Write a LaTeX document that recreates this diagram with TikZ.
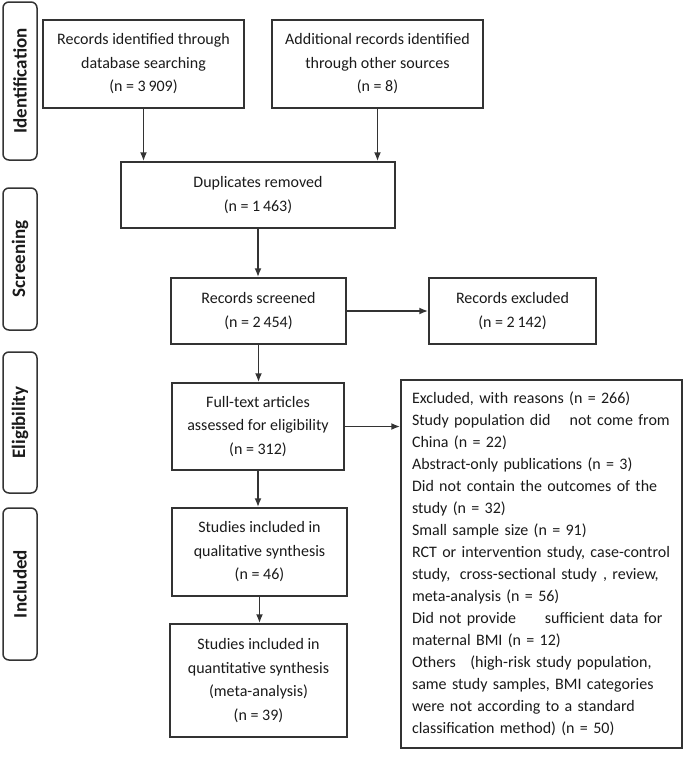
\documentclass[tikz,border=0pt]{standalone}
\usepackage{fontspec}
\setmainfont{Carlito}
\usetikzlibrary{arrows.meta}
\definecolor{boxgray}{HTML}{333333}
\definecolor{txtgray}{HTML}{1A1A1A}

\begin{document}
\begin{tikzpicture}[x=1pt, y=-1pt,
    box/.style={draw=boxgray, line width=1.5pt, align=center, inner sep=2pt, text=txtgray,
        font=\fontsize{16}{23.5}\selectfont},
    phase/.style={draw=boxgray, line width=1.5pt, rounded corners=6pt, rotate=90, text=txtgray,
        minimum height=34pt, font=\bfseries\fontsize{19}{21}\selectfont},
    flow/.style={draw=boxgray, line width=1.8pt, -{Latex[length=9pt,width=7pt]}}]
    \useasboundingbox (0,0) rectangle (685,769);
    % phases on the left
    \node [phase, minimum width=158pt] (ident) at (20,81) {Identification};
    \node [phase, minimum width=142pt] (screen) at (20,259) {Screening};
    \node [phase, minimum width=141pt] (elig) at (20,422.5) {Eligibility};
    \node [phase, minimum width=152pt] (incl) at (20,584) {Included};
    % flow boxes
    \node [box, minimum width=201pt, minimum height=88pt] (db) at (143.5,64)
        {Records identified through\\database searching\\(n = 3\,909)};
    \node [box, minimum width=211pt, minimum height=88pt] (other) at (377.5,64)
        {Additional records identified\\through other sources\\(n = 8)};
    \node [box, minimum width=274pt, minimum height=66pt] (dup) at (258,195)
        {Duplicates removed\\(n = 1\,463)};
    \node [box, minimum width=175pt, minimum height=66pt] (screened) at (258.5,311)
        {Records screened\\(n = 2\,454)};
    \node [box, minimum width=167pt, minimum height=66pt] (excl) at (512.5,311)
        {Records excluded\\(n = 2\,142)};
    \node [box, minimum width=172pt, minimum height=87pt] (full) at (258,426.5)
        {Full-text articles\\assessed for eligibility\\(n = 312)};
    \node [box, minimum width=175pt, minimum height=88pt] (qual) at (259.5,552)
        {Studies included in\\qualitative synthesis\\(n = 46)};
    \node [box, minimum width=177pt, minimum height=113pt] (quant) at (258.5,680.5)
        {Studies included in\\quantitative synthesis\\(meta-analysis)\\(n = 39)};
    \node [box, align=left, inner xsep=11pt, text width=259pt, minimum height=368pt,
        font=\fontsize{16}{22}\selectfont] (reasons) at (541.5,564)
        {Excluded, with reasons (n = 266)\\
         Study population did\hspace{1.2em}not come from\\
         China (n = 22)\\
         Abstract-only publications (n = 3)\\
         Did not contain the outcomes of the\\
         study (n = 32)\\
         Small sample size (n = 91)\\
         RCT or intervention study, case-control\\
         study,\hspace{0.6em}cross-sectional study\hspace{0.4em}, review,\\
         meta-analysis (n = 56)\\
         Did not provide\hspace{1.8em}sufficient data for\\
         maternal BMI (n = 12)\\
         Others\hspace{0.9em}(high-risk study population,\\
         same study samples, BMI categories\\
         were not according to a standard\\
         classification method) (n = 50)};
    % connectors
    \draw [flow] (db.south) -- (db.south |- dup.north);
    \draw [flow] (other.south) -- (other.south |- dup.north);
    \draw [flow] (dup.south) -- (dup.south |- screened.north);
    \draw [flow] (screened.east) -- (excl.west);
    \draw [flow] (screened.south) -- (screened.south |- full.north);
    \draw [flow] (full.east) -- (full.east -| reasons.west);
    \draw [flow] (full.south) -- (full.south |- qual.north);
    \draw [flow] (qual.south) -- (qual.south |- quant.north);
\end{tikzpicture}
\end{document}
